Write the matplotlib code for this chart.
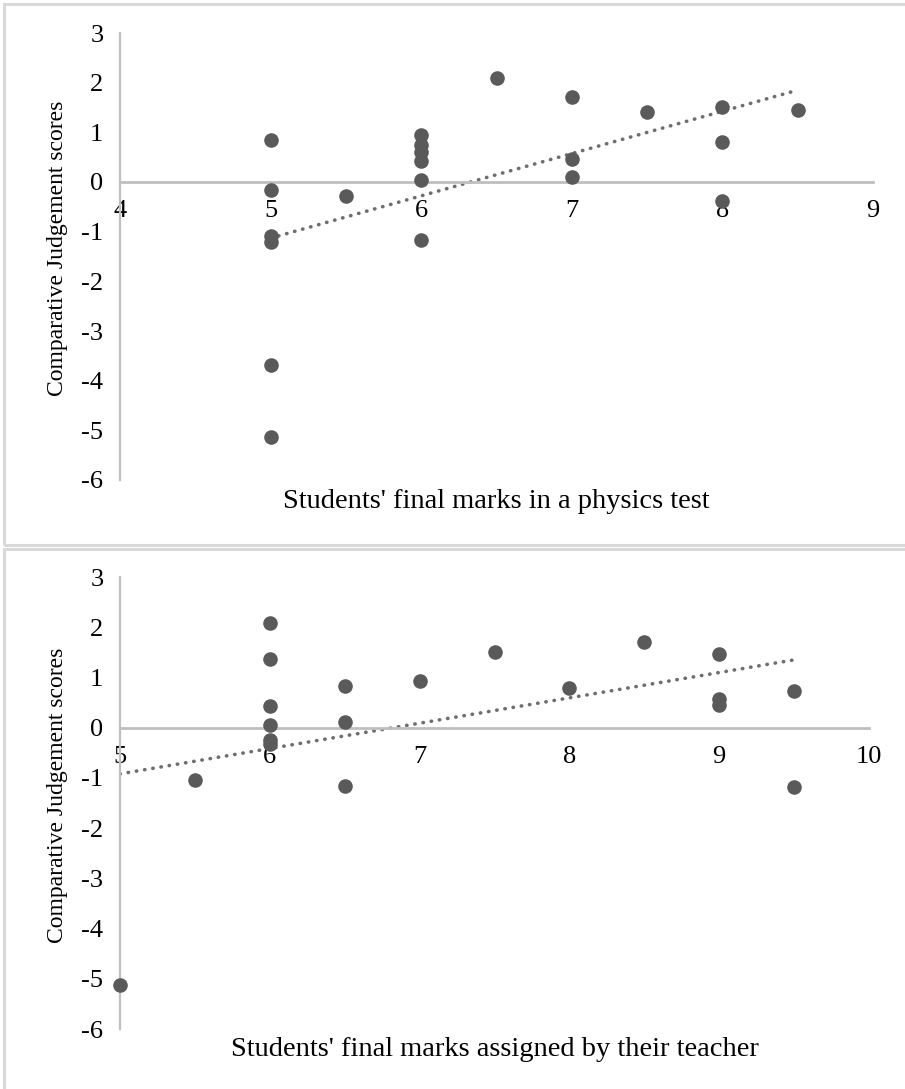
import numpy as np
import matplotlib
matplotlib.use('Agg')
import matplotlib.pyplot as plt
from matplotlib.patches import Rectangle

plt.rcParams['font.family'] = ['Liberation Serif', 'DejaVu Serif']
plt.rcParams['axes.unicode_minus'] = False

# top chart: physics test marks vs CJ scores
test_marks = [5, 5, 5, 5, 5, 5, 5.5, 6, 6, 6, 6, 6, 6, 6.5, 7, 7, 7, 7.5, 8, 8, 8, 8.5]
test_scores = [0.85, -0.16, -1.09, -1.2, -3.68, -5.13, -0.28, 0.95, 0.74, 0.6, 0.42, 0.04, -1.17,
               2.09, 1.71, 0.46, 0.1, 1.41, 1.51, 0.8, -0.38, 1.45]
test_trend_x = [5, 8.5]
test_trend_y = [-1.13, 1.85]

# bottom chart: teacher marks vs CJ scores
teacher_marks = [5, 5.5, 6, 6, 6, 6, 6, 6, 6.5, 6.5, 6.5, 7, 7.5, 8, 8.5, 9, 9, 9, 9.5, 9.5]
teacher_scores = [-5.12, -1.05, 2.08, 1.37, 0.43, 0.05, -0.25, -0.33, 0.83, 0.11, -1.17,
                  0.93, 1.51, 0.79, 1.71, 1.46, 0.58, 0.46, 0.74, -1.18]
teacher_trend_x = [5, 9.5]
teacher_trend_y = [-0.92, 1.35]

y_ticks = [-6, -5, -4, -3, -2, -1, 0, 1, 2, 3]

W, H = 905, 1089
fig = plt.figure(figsize=(W / 100, H / 100), dpi=100)

# panel borders
for (y0, y1) in [(4, 545), (549, 1100)]:
    fig.patches.append(Rectangle((4 / W, 1 - y1 / H), (915 - 4) / W, (y1 - y0) / H,
                                 transform=fig.transFigure, fill=False,
                                 edgecolor='#d9d9d9', linewidth=2.2, zorder=0))


def make_panel(rect, xs, ys, tx, ty, xlim, xlabel, label_y):
    left, top, right, bottom = rect
    ax = fig.add_axes([left / W, 1 - bottom / H, (right - left) / W, (bottom - top) / H])
    ax.plot(xs, ys, 'o', color='#5a5a5a', markersize=10.5, markeredgewidth=0,
            zorder=3, clip_on=False)
    # trendline as drawn in the original
    ax.plot(tx, ty, linestyle=(0, (0.1, 2.2)), dash_capstyle='round',
            color='#6e6e6e', linewidth=2.6, zorder=2)

    ax.set_xlim(xlim)
    ax.set_ylim(-6, 3)
    ax.set_yticks(y_ticks)
    ax.set_xticks(range(xlim[0], xlim[1] + 1))
    ax.spines['top'].set_visible(False)
    ax.spines['right'].set_visible(False)
    ax.spines['bottom'].set_position(('data', 0))
    ax.spines['bottom'].set_color('#bfbfbf')
    ax.spines['bottom'].set_linewidth(2)
    ax.spines['left'].set_color('#bfbfbf')
    ax.spines['left'].set_linewidth(1.6)
    ax.tick_params(length=0, labelsize=19)
    ax.tick_params(axis='x', pad=13)
    ax.tick_params(axis='y', pad=12)
    ax.set_facecolor('none')
    fig.text(57 / W, 1 - ((top + bottom) / 2 - 8) / H, 'Comparative Judgement scores',
             fontsize=17, rotation=90, ha='center', va='center')
    fig.text((left + right) / 2 / W, 1 - label_y / H, xlabel, fontsize=20.5,
             ha='center', va='center')
    return ax


make_panel((120, 33, 873, 480), test_marks, test_scores, test_trend_x, test_trend_y,
           (4, 9), "Students' final marks in a physics test", 501)
make_panel((120, 577, 869, 1029), teacher_marks, teacher_scores, teacher_trend_x,
           teacher_trend_y, (5, 10), "Students' final marks assigned by their teacher", 1049)

fig.savefig('out.png', dpi=100)
